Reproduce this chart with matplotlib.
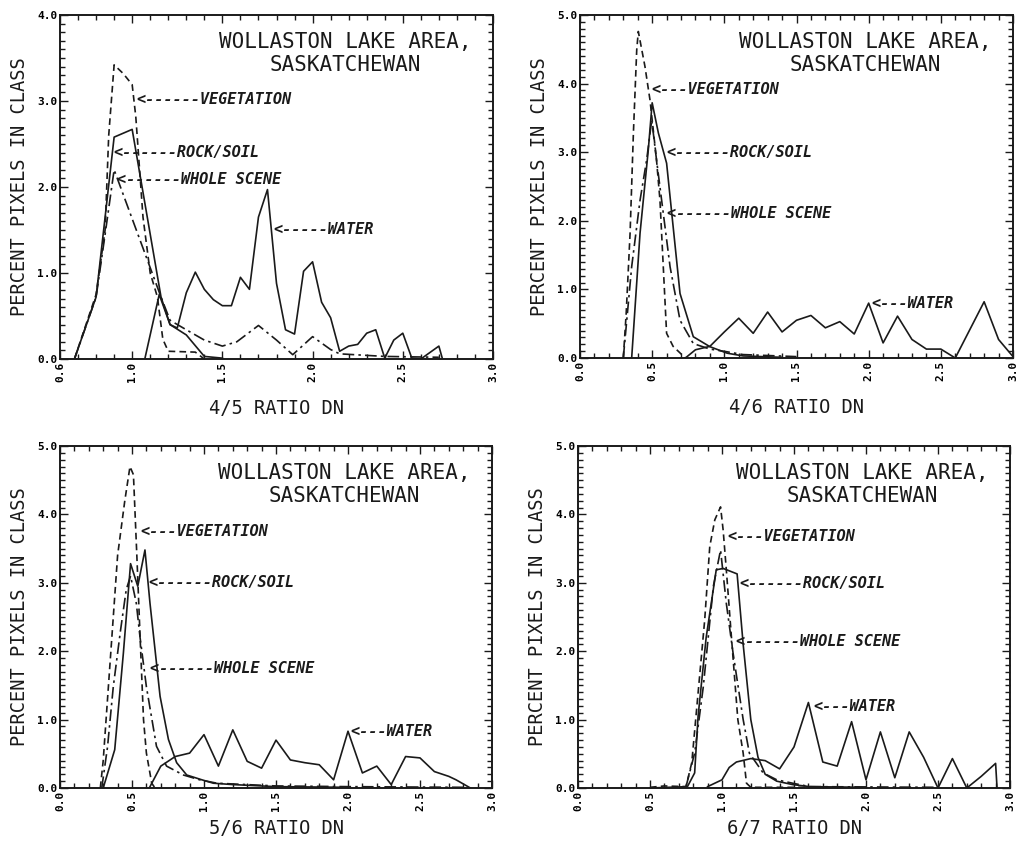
import matplotlib
matplotlib.use("Agg")
import matplotlib.pyplot as plt
from matplotlib.ticker import MultipleLocator, FormatStrFormatter

plt.rcParams['font.family'] = ['DejaVu Sans Mono', 'DejaVu Sans']

# ---- 4/5 ratio ----
veg45_x = [0.68, 0.80, 0.85, 0.87, 0.90, 0.95, 1.00, 1.02, 1.06, 1.10, 1.14, 1.17, 1.20, 1.35, 1.40]
veg45_y = [0.0, 0.75, 1.50, 2.60, 3.42, 3.32, 3.19, 2.82, 1.65, 1.00, 0.72, 0.23, 0.09, 0.08, 0.0]
rock45_x = [0.68, 0.80, 0.90, 1.00, 1.16, 1.21, 1.30, 1.40, 1.50]
rock45_y = [0.0, 0.72, 2.58, 2.67, 0.72, 0.40, 0.28, 0.03, 0.01]
whole45_x = [0.68, 0.80, 0.85, 0.90, 1.16, 1.21, 1.30, 1.40, 1.50, 1.58, 1.70, 1.80, 1.89,
             2.00, 2.10, 2.15, 2.40, 2.70]
whole45_y = [0.0, 0.72, 1.45, 2.20, 0.72, 0.45, 0.34, 0.22, 0.15, 0.20, 0.39, 0.22, 0.05,
             0.26, 0.11, 0.06, 0.03, 0.02]
water45_x = [1.07, 1.15, 1.21, 1.25, 1.30, 1.35, 1.40, 1.45, 1.50, 1.55, 1.60, 1.65, 1.70,
             1.75, 1.80, 1.85, 1.90, 1.95, 2.00, 2.05, 2.10, 2.15, 2.20, 2.25, 2.30, 2.35,
             2.40, 2.45, 2.50, 2.55, 2.60, 2.70, 2.72]
water45_y = [0.0, 0.75, 0.40, 0.36, 0.77, 1.01, 0.81, 0.69, 0.62, 0.62, 0.95, 0.81, 1.65,
             1.97, 0.88, 0.34, 0.29, 1.02, 1.13, 0.66, 0.48, 0.09, 0.15, 0.17, 0.30, 0.34,
             0.01, 0.22, 0.30, 0.01, 0.0, 0.15, 0.0]

# ---- 4/6 ratio ----
veg46_x = [0.30, 0.32, 0.347, 0.37, 0.393, 0.404, 0.45, 0.485, 0.53, 0.554, 0.577, 0.60, 0.645, 0.73]
veg46_y = [0.0, 0.65, 1.82, 3.28, 4.49, 4.76, 4.25, 3.76, 2.89, 2.30, 1.33, 0.36, 0.17, 0.0]
rock46_x = [0.358, 0.416, 0.473, 0.50, 0.543, 0.60, 0.693, 0.785, 0.90, 1.02, 1.13, 1.40]
rock46_y = [0.0, 1.82, 3.03, 3.72, 3.28, 2.84, 0.94, 0.31, 0.165, 0.07, 0.03, 0.01]
whole46_x = [0.30, 0.358, 0.416, 0.462, 0.497, 0.53, 0.577, 0.624, 0.693, 0.785, 0.90, 1.02, 1.13, 1.50]
whole46_y = [0.0, 1.33, 2.30, 2.89, 3.47, 2.89, 2.11, 1.33, 0.55, 0.21, 0.13, 0.09, 0.05, 0.02]
water46_x = [0.73, 0.80, 0.90, 1.00, 1.10, 1.20, 1.30, 1.40, 1.50, 1.60, 1.70, 1.80, 1.90,
             2.00, 2.10, 2.20, 2.30, 2.40, 2.50, 2.60, 2.80, 2.90, 3.00]
water46_y = [0.0, 0.12, 0.17, 0.38, 0.58, 0.36, 0.67, 0.38, 0.55, 0.62, 0.44, 0.53, 0.35,
             0.80, 0.22, 0.61, 0.27, 0.13, 0.13, 0.0, 0.82, 0.27, 0.02]

# ---- 5/6 ratio ----
veg56_x = [0.28, 0.30, 0.35, 0.40, 0.45, 0.486, 0.51, 0.533, 0.556, 0.58, 0.60, 0.637, 0.66]
veg56_y = [0.0, 0.40, 1.90, 3.40, 4.20, 4.70, 4.58, 3.43, 2.22, 1.00, 0.51, 0.07, 0.0]
rock56_x = [0.30, 0.38, 0.44, 0.49, 0.54, 0.59, 0.625, 0.695, 0.753, 0.81, 0.88, 0.985,
            1.065, 1.20, 1.50, 2.00]
rock56_y = [0.0, 0.56, 1.97, 3.28, 2.95, 3.48, 2.70, 1.34, 0.71, 0.37, 0.19, 0.12,
            0.07, 0.05, 0.02, 0.01]
whole56_x = [0.29, 0.33, 0.37, 0.42, 0.46, 0.49, 0.53, 0.556, 0.60, 0.67, 0.74, 0.857,
             0.97, 1.09, 1.50, 2.00, 2.80]
whole56_y = [0.0, 0.60, 1.48, 2.30, 2.90, 3.10, 2.70, 2.20, 1.48, 0.61, 0.32, 0.19,
             0.12, 0.07, 0.03, 0.02, 0.01]
water56_x = [0.62, 0.70, 0.80, 0.90, 1.00, 1.10, 1.20, 1.30, 1.40, 1.50, 1.60, 1.70, 1.80,
             1.90, 2.00, 2.10, 2.20, 2.30, 2.40, 2.50, 2.60, 2.70, 2.75, 2.85]
water56_y = [0.0, 0.32, 0.46, 0.51, 0.78, 0.32, 0.85, 0.39, 0.29, 0.70, 0.41, 0.37, 0.34,
             0.12, 0.83, 0.22, 0.32, 0.05, 0.46, 0.44, 0.24, 0.17, 0.12, 0.0]

# ---- 6/7 ratio ----
veg67_x = [0.50, 0.60, 0.75, 0.79, 0.834, 0.88, 0.915, 0.95, 0.99, 1.008, 1.03, 1.065,
           1.11, 1.147, 1.17, 1.20, 1.60]
veg67_y = [0.01, 0.03, 0.02, 0.37, 1.39, 2.46, 3.53, 3.92, 4.11, 3.77, 3.19, 2.22,
           1.00, 0.51, 0.07, 0.01, 0.01]
rock67_x = [0.50, 0.76, 0.81, 0.834, 0.89, 0.96, 1.008, 1.105, 1.147, 1.20, 1.25, 1.30,
            1.38, 1.49, 1.61, 2.00]
rock67_y = [0.0, 0.02, 0.22, 1.05, 2.20, 3.19, 3.21, 3.13, 2.10, 1.00, 0.45, 0.20,
            0.10, 0.05, 0.02, 0.01]
whole67_x = [0.75, 0.81, 0.87, 0.94, 0.99, 1.03, 1.077, 1.147, 1.19, 1.286, 1.38, 1.49, 1.61, 2.50]
whole67_y = [0.02, 0.51, 1.48, 2.95, 3.48, 2.70, 1.97, 1.00, 0.51, 0.22, 0.12, 0.07, 0.02, 0.01]
water67_x = [0.90, 1.00, 1.05, 1.10, 1.20, 1.30, 1.40, 1.50, 1.60, 1.70, 1.80, 1.90, 2.00,
             2.10, 2.20, 2.30, 2.40, 2.50, 2.60, 2.70, 2.80, 2.90, 2.91]
water67_y = [0.02, 0.12, 0.30, 0.38, 0.43, 0.40, 0.28, 0.60, 1.25, 0.38, 0.32, 0.97, 0.12,
             0.82, 0.15, 0.82, 0.45, 0.0, 0.43, 0.0, 0.17, 0.36, 0.0]

ratio_labels = ['4/5 RATIO DN', '4/6 RATIO DN', '5/6 RATIO DN', '6/7 RATIO DN']

ink = '#1a1a1a'
fig = plt.figure(figsize=(10.21, 8.42), dpi=100)
fig.patch.set_facecolor('white')

boxes = [
    [60 / 1021, 1 - 359 / 842, 433 / 1021, 344 / 842],
    [580 / 1021, 1 - 358 / 842, 433 / 1021, 343 / 842],
    [60 / 1021, 1 - 788 / 842, 432 / 1021, 342 / 842],
    [578 / 1021, 1 - 788 / 842, 432 / 1021, 342 / 842],
]


def panel(box, xmin, ymax, xticks, data, xlabel, notes, xpad):
    ax = fig.add_axes(box)
    (vx, vy), (rx, ry), (wx, wy), (hx, hy) = data
    ax.plot(vx, vy, color=ink, lw=1.2, ls=(0, (4, 2.5)))
    ax.plot(rx, ry, color=ink, lw=1.2, ls='-')
    ax.plot(wx, wy, color=ink, lw=1.2, ls=(0, (7, 2.5, 1.5, 2.5)))
    ax.plot(hx, hy, color=ink, lw=1.2, ls='-')
    ax.set_xlim(xmin, 3.0)
    ax.set_ylim(0, ymax)
    ax.set_xticks(xticks)
    ax.xaxis.set_minor_locator(MultipleLocator(0.1))
    ax.yaxis.set_major_locator(MultipleLocator(1.0))
    ax.yaxis.set_minor_locator(MultipleLocator(0.1))
    ax.xaxis.set_major_formatter(FormatStrFormatter('%.1f'))
    ax.yaxis.set_major_formatter(FormatStrFormatter('%.1f'))
    ax.tick_params(which='both', direction='in', top=True, right=True, color=ink, width=1.0)
    ax.tick_params(which='major', length=6)
    ax.tick_params(which='minor', length=3.5)
    ax.tick_params(axis='both', labelsize=8, pad=2)
    for lab in ax.get_xticklabels():
        lab.set_rotation(90)
        lab.set_fontweight('bold')
    for lab in ax.get_yticklabels():
        lab.set_fontweight('bold')
    for s in ax.spines.values():
        s.set_linewidth(1.4)
        s.set_color(ink)
    ax.set_xlabel(xlabel, fontsize=13.5, labelpad=xpad, color=ink)
    ax.set_ylabel('PERCENT PIXELS IN CLASS', fontsize=13.5, labelpad=6, color=ink)
    ax.text(0.658, 0.95, 'WOLLASTON LAKE AREA,\nSASKATCHEWAN', transform=ax.transAxes,
            ha='center', va='top', fontsize=15, color=ink, linespacing=1.15)
    for x, y, s in notes:
        ax.text(x, y, s, ha='left', va='center', fontsize=11, fontweight='bold',
                fontstyle='oblique', color=ink)
    return ax


panel(boxes[0], 0.6, 4.0, [0.6, 1.0, 1.5, 2.0, 2.5, 3.0],
      [(veg45_x, veg45_y), (rock45_x, rock45_y), (whole45_x, whole45_y), (water45_x, water45_y)],
      ratio_labels[0],
      [(1.025, 3.02, '<------VEGETATION'), (0.896, 2.40, '<------ROCK/SOIL'),
       (0.914, 2.085, '<------WHOLE SCENE'), (1.783, 1.50, '<-----WATER')], 12)
panel(boxes[1], 0.0, 5.0, [0.0, 0.5, 1.0, 1.5, 2.0, 2.5, 3.0],
      [(veg46_x, veg46_y), (rock46_x, rock46_y), (whole46_x, whole46_y), (water46_x, water46_y)],
      ratio_labels[1],
      [(0.497, 3.91, '<---VEGETATION'), (0.60, 3.0, '<------ROCK/SOIL'),
       (0.60, 2.11, '<------WHOLE SCENE'), (2.02, 0.80, '<---WATER')], 12)
panel(boxes[2], 0.0, 5.0, [0.0, 0.5, 1.0, 1.5, 2.0, 2.5, 3.0],
      [(veg56_x, veg56_y), (rock56_x, rock56_y), (whole56_x, whole56_y), (water56_x, water56_y)],
      ratio_labels[2],
      [(0.556, 3.75, '<---VEGETATION'), (0.614, 3.0, '<------ROCK/SOIL'),
       (0.625, 1.75, '<------WHOLE SCENE'), (2.015, 0.82, '<---WATER')], 6)
panel(boxes[3], 0.0, 5.0, [0.0, 0.5, 1.0, 1.5, 2.0, 2.5, 3.0],
      [(veg67_x, veg67_y), (rock67_x, rock67_y), (whole67_x, whole67_y), (water67_x, water67_y)],
      ratio_labels[3],
      [(1.035, 3.68, '<---VEGETATION'), (1.12, 2.99, '<------ROCK/SOIL'),
       (1.10, 2.14, '<------WHOLE SCENE'), (1.633, 1.19, '<---WATER')], 6)

fig.savefig('out.png', dpi=100)
